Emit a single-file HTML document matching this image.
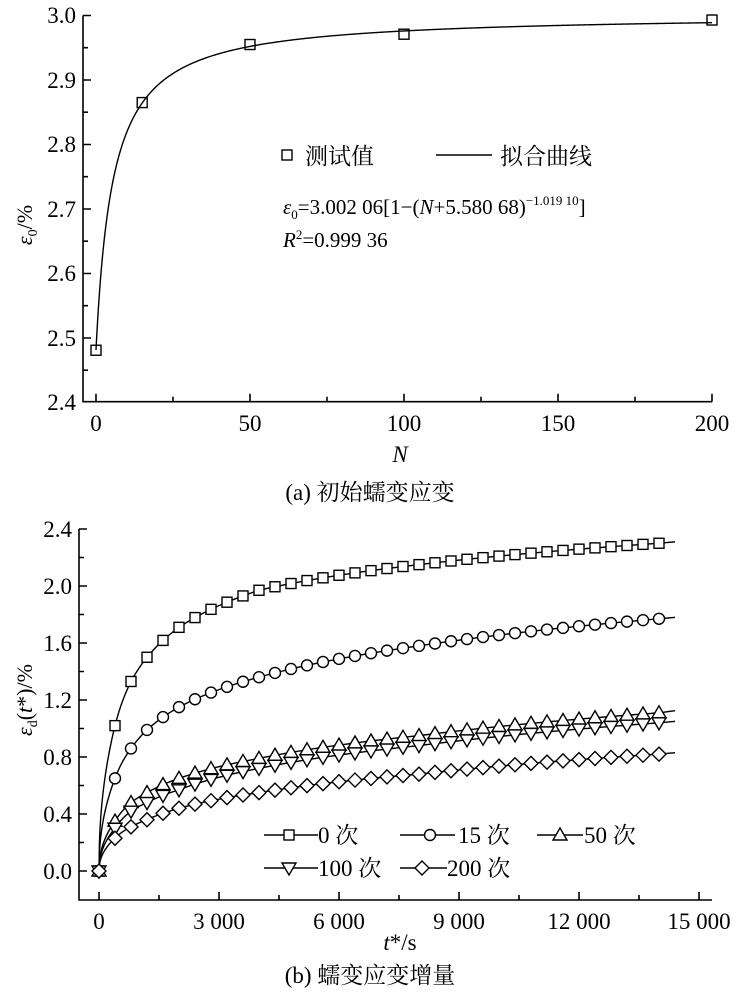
<!DOCTYPE html>
<html><head><meta charset="utf-8"><style>
body{margin:0;background:#fff}
svg text{font-family:"Liberation Serif","Noto Serif CJK SC",serif;fill:#000}
</style></head><body>
<svg id="s" width="738" height="1000" viewBox="0 0 738 1000" xmlns="http://www.w3.org/2000/svg">
<g stroke="#000" stroke-width="1.6" fill="none">
<path d="M83 15.5V401.7H712"/>
<path d="M83 15.5h8M83 80h8M83 144.5h8M83 209h8M83 273.5h8M83 338h8M83 47.7h5M83 112.2h5M83 176.7h5M83 241.2h5M83 305.7h5M83 370.2h5"/>
<path d="M96 401.7v-8M250 401.7v-8M404 401.7v-8M558 401.7v-8M712 401.7v-8M173 401.7v-5M327 401.7v-5M481 401.7v-5M635 401.7v-5"/>
<path d="M79 529V900H712"/>
<path d="M79 871h8M79 814h8M79 757h8M79 700h8M79 643h8M79 586h8M79 529h8M79 842.5h5M79 785.5h5M79 728.5h5M79 671.5h5M79 614.5h5M79 557.5h5"/>
<path d="M99 900v-8M219 900v-8M339 900v-8M459 900v-8M579 900v-8M699 900v-8M159 900v-5M279 900v-5M399 900v-5M519 900v-5M639 900v-5"/>
</g>
<g font-size="23" text-anchor="end">
<text x="76" y="23">3.0</text><text x="76" y="88">2.9</text><text x="76" y="152">2.8</text><text x="76" y="217">2.7</text><text x="76" y="281">2.6</text><text x="76" y="346">2.5</text><text x="76" y="410">2.4</text>
</g>
<g font-size="23" text-anchor="middle">
<text x="96" y="431">0</text><text x="250" y="431">50</text><text x="404" y="431">100</text><text x="558" y="431">150</text><text x="712" y="431">200</text>
<text x="400" y="462" font-style="italic">N</text>
<text x="370" y="500">(a) 初始蠕变应变</text>
</g>
<text transform="translate(32 225) rotate(-90)" font-size="22" text-anchor="middle"><tspan font-style="italic">ε</tspan><tspan font-size="14" dy="5">0</tspan><tspan dy="-5">/%</tspan></text>
<rect x="282" y="150" width="10" height="10" fill="none" stroke="#000" stroke-width="1.4"/>
<text x="305" y="164" font-size="23">测试值</text>
<path d="M436 155H492" stroke="#000" stroke-width="1.4"/>
<text x="500" y="164" font-size="23">拟合曲线</text>
<text x="283" y="214" font-size="21"><tspan font-style="italic">ε</tspan><tspan font-size="13" dy="5">0</tspan><tspan dy="-5">=3.002 06[1−(</tspan><tspan font-style="italic">N</tspan><tspan>+5.580 68)</tspan><tspan font-size="13" dy="-9">−1.019 10</tspan><tspan dy="9">]</tspan></text>
<text x="283" y="247" font-size="21"><tspan font-style="italic">R</tspan><tspan font-size="13" dy="-8">2</tspan><tspan dy="8">=0.999 36</tspan></text>
<g font-size="23" text-anchor="end">
<text x="72" y="879">0.0</text><text x="72" y="822">0.4</text><text x="72" y="765">0.8</text><text x="72" y="708">1.2</text><text x="72" y="651">1.6</text><text x="72" y="594">2.0</text><text x="72" y="537">2.4</text>
</g>
<g font-size="23" text-anchor="middle">
<text x="99" y="929">0</text><text x="219" y="929">3 000</text><text x="339" y="929">6 000</text><text x="459" y="929">9 000</text><text x="579" y="929">12 000</text><text x="699" y="929">15 000</text>
<text x="400" y="950"><tspan font-style="italic">t</tspan>*/s</text>
<text x="370" y="983">(b) 蠕变应变增量</text>
</g>
<text transform="translate(32 700) rotate(-90)" font-size="22" text-anchor="middle"><tspan font-style="italic">ε</tspan><tspan font-size="14" dy="5">d</tspan><tspan dy="-5">(</tspan><tspan font-style="italic">t</tspan><tspan>*)/%</tspan></text>
<g font-size="23">
<text x="318" y="843">0 次</text><text x="458" y="843">15 次</text><text x="584" y="843">50 次</text>
<text x="318" y="876">100 次</text><text x="447" y="876">200 次</text>
</g>
<g id="dyn" stroke="#000" stroke-width="1.4" fill="#fff"></g>
</svg>
<script>
var g=document.getElementById('dyn'),NS='http://www.w3.org/2000/svg';
function el(t,a){var e=document.createElementNS(NS,t);for(var k in a)e.setAttribute(k,a[k]);g.appendChild(e);return e;}
var d='';for(var N=0;N<=200;N+=0.25){var v=3.00206*(1-Math.pow(N+5.58068,-1.0191));d+=(N?'L':'M')+(96+3.08*N).toFixed(2)+' '+(15.5+(3-v)*645).toFixed(2);}
el('path',{d:d,fill:'none'});
[[0,2.481],[15,2.865],[50,2.955],[100,2.971],[200,2.993]].forEach(function(p){var x=96+3.08*p[0],y=15.5+(3-p[1])*645;el('rect',{x:x-5,y:y-5,width:10,height:10,fill:'none'});});
var T=[0,400,800,1200,2000,4000,8000,14000,14400];
var S=[[0,1.02,1.33,1.5,1.71,1.97,2.15,2.30,2.31],[0,0.65,0.86,0.99,1.15,1.36,1.58,1.77,1.78],[0,0.35,0.48,0.55,0.65,0.79,0.95,1.11,1.125],[0,0.30,0.42,0.48,0.57,0.72,0.88,1.04,1.05],[0,0.23,0.31,0.36,0.44,0.55,0.68,0.82,0.83]];
function val(s,t){if(t<=0)return 0;if(t<=400)return s[1]*Math.pow(t/400,0.45);for(var i=1;i<T.length-1;i++){if(t<=T[i+1]){var f=Math.log(t/T[i])/Math.log(T[i+1]/T[i]);return s[i]+f*(s[i+1]-s[i]);}}return s[8];}
function X(t){return 99+t*0.04}function Y(v){return 871-v*142.5}
function mk(k,x,y){if(k==0)el('rect',{x:x-5,y:y-5,width:10,height:10});else if(k==1)el('circle',{cx:x,cy:y,r:5.5});else if(k==2)el('path',{d:'M'+x+' '+(y-7)+'L'+(x+7)+' '+(y+5)+'L'+(x-7)+' '+(y+5)+'Z'});else if(k==3)el('path',{d:'M'+x+' '+(y+7)+'L'+(x+7)+' '+(y-5)+'L'+(x-7)+' '+(y-5)+'Z'});else el('path',{d:'M'+x+' '+(y-7)+'L'+(x+7)+' '+y+'L'+x+' '+(y+7)+'L'+(x-7)+' '+y+'Z'});}
S.forEach(function(s){var d='';for(var t=0;t<=14400;t+=(t<400?10:50)){d+=(t?'L':'M')+X(t).toFixed(2)+' '+Y(val(s,t)).toFixed(2);}el('path',{d:d,fill:'none'});});
S.forEach(function(s,k){for(var t=0;t<=14000;t+=400){mk(k,X(t),Y(val(s,t)));}});
[[264,318,289,835,0],[400,455,430,835,1],[537,583,560,835,2],[264,318,289,868,3],[400,447,422,868,4]].forEach(function(l){el('path',{d:'M'+l[0]+' '+l[3]+'H'+l[1],fill:'none'});mk(l[4],l[2],l[3]);});
</script>
</body></html>
